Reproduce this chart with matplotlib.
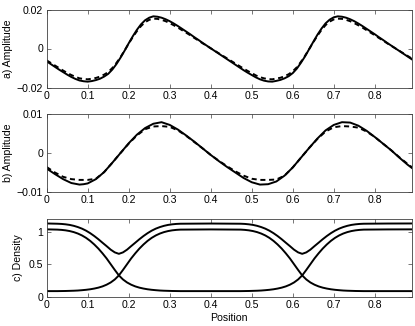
import matplotlib
matplotlib.use("Agg")
import matplotlib.pyplot as plt

plt.rcParams['font.family'] = ['Liberation Sans', 'DejaVu Sans']
plt.rcParams['axes.unicode_minus'] = True

# ---------------- data ----------------
x_a = [0.00, 0.01, 0.02, 0.03, 0.04, 0.05, 0.06, 0.07, 0.08, 0.09,
       0.10, 0.11, 0.12, 0.13, 0.14, 0.15, 0.16, 0.17, 0.18, 0.19,
       0.20, 0.21, 0.22, 0.23, 0.24, 0.25, 0.26, 0.27, 0.28, 0.29,
       0.30, 0.31, 0.32, 0.33, 0.34, 0.35, 0.36, 0.37, 0.38, 0.39,
       0.40, 0.41, 0.42, 0.43, 0.44, 0.45, 0.46, 0.47, 0.48, 0.49,
       0.50, 0.51, 0.52, 0.53, 0.54, 0.55, 0.56, 0.57, 0.58, 0.59,
       0.60, 0.61, 0.62, 0.63, 0.64, 0.65, 0.66, 0.67, 0.68, 0.69,
       0.70, 0.71, 0.72, 0.73, 0.74, 0.75, 0.76, 0.77, 0.78, 0.79,
       0.80, 0.81, 0.82, 0.83, 0.84, 0.85, 0.86, 0.87, 0.88, 0.89]

amp_a_solid = [-0.0066, -0.0080, -0.0094, -0.0108, -0.0121, -0.0134, -0.0146, -0.0156, -0.0164, -0.0168,
               -0.0170, -0.0167, -0.0162, -0.0155, -0.0144, -0.0130, -0.0108, -0.0080, -0.0047, -0.0011,
               0.0027, 0.0063, 0.0096, 0.0124, 0.0145, 0.0158, 0.0165, 0.0163, 0.0158, 0.0150,
               0.0140, 0.0128, 0.0115, 0.0101, 0.0087, 0.0073, 0.0058, 0.0044, 0.0029, 0.0015,
               0.0001, -0.0013, -0.0027, -0.0041, -0.0055, -0.0069, -0.0083, -0.0097, -0.0111, -0.0124,
               -0.0136, -0.0148, -0.0158, -0.0165, -0.0169, -0.0170, -0.0166, -0.0161, -0.0153, -0.0142,
               -0.0126, -0.0103, -0.0073, -0.0040, -0.0003, 0.0034, 0.0070, 0.0102, 0.0129, 0.0148,
               0.0160, 0.0165, 0.0163, 0.0158, 0.0150, 0.0140, 0.0128, 0.0115, 0.0101, 0.0087,
               0.0073, 0.0058, 0.0044, 0.0029, 0.0015, 0.0001, -0.0013, -0.0027, -0.0041, -0.0055]

amp_a_dashed = [-0.0061, -0.0074, -0.0087, -0.0100, -0.0113, -0.0125, -0.0136, -0.0145, -0.0153, -0.0156,
                -0.0158, -0.0155, -0.0151, -0.0144, -0.0134, -0.0121, -0.0100, -0.0074, -0.0044, -0.0010,
                0.0025, 0.0059, 0.0089, 0.0115, 0.0135, 0.0147, 0.0153, 0.0152, 0.0147, 0.0140,
                0.0130, 0.0119, 0.0107, 0.0094, 0.0081, 0.0068, 0.0054, 0.0041, 0.0027, 0.0014,
                0.0001, -0.0012, -0.0025, -0.0038, -0.0051, -0.0064, -0.0077, -0.0090, -0.0103, -0.0115,
                -0.0126, -0.0138, -0.0147, -0.0153, -0.0157, -0.0158, -0.0154, -0.0150, -0.0142, -0.0132,
                -0.0117, -0.0096, -0.0068, -0.0037, -0.0003, 0.0032, 0.0065, 0.0095, 0.0120, 0.0138,
                0.0149, 0.0153, 0.0152, 0.0147, 0.0140, 0.0130, 0.0119, 0.0107, 0.0094, 0.0081,
                0.0068, 0.0054, 0.0041, 0.0027, 0.0014, 0.0001, -0.0012, -0.0025, -0.0038, -0.0051]

x_b = [0.00, 0.02, 0.04, 0.06, 0.08, 0.09, 0.10, 0.12, 0.14, 0.16, 0.18, 0.20,
       0.22, 0.24, 0.26, 0.28, 0.30, 0.32, 0.34, 0.36, 0.38, 0.40, 0.42, 0.44,
       0.46, 0.48, 0.50, 0.52, 0.54, 0.56, 0.58, 0.60, 0.62, 0.64, 0.66, 0.68,
       0.70, 0.72, 0.74, 0.76, 0.78, 0.80, 0.82, 0.84, 0.86, 0.88, 0.89]

amp_b_solid = [-0.0040, -0.0054, -0.0067, -0.0077, -0.0081, -0.0080, -0.0078,
               -0.0067, -0.0049, -0.0025, 0.0000, 0.0025, 0.0047, 0.0064,
               0.0075, 0.0079, 0.0072, 0.0060, 0.0045, 0.0029, 0.0012, -0.0005,
               -0.0021, -0.0036, -0.0050, -0.0064, -0.0075, -0.0081, -0.0080,
               -0.0073, -0.0058, -0.0037, -0.0012, 0.0013, 0.0037, 0.0058,
               0.0072, 0.0079, 0.0078, 0.0070, 0.0057, 0.0041, 0.0024, 0.0007,
               -0.0012, -0.0030, -0.0038]

amp_b_dashed = [-0.0036, -0.0050, -0.0061, -0.0067, -0.0069, -0.0069, -0.0069,
                -0.0066, -0.0049, -0.0025, 0.0000, 0.0024, 0.0045, 0.0061,
                0.0068, 0.0069, 0.0067, 0.0058, 0.0044, 0.0028, 0.0012, -0.0005,
                -0.0020, -0.0034, -0.0047, -0.0058, -0.0066, -0.0069, -0.0069,
                -0.0068, -0.0058, -0.0037, -0.0012, 0.0013, 0.0036, 0.0055,
                0.0066, 0.0069, 0.0068, 0.0065, 0.0055, 0.0041, 0.0024, 0.0007,
                -0.0011, -0.0028, -0.0036]

x_c = [0.000,
       0.026, 0.036, 0.046, 0.056, 0.066, 0.076, 0.086, 0.096, 0.106, 0.116,
       0.126, 0.136, 0.146, 0.156, 0.166, 0.176, 0.186, 0.196, 0.206, 0.216,
       0.226, 0.236, 0.246, 0.256, 0.266, 0.276, 0.286, 0.296, 0.306, 0.316,
       0.326,
       0.400,
       0.473, 0.483, 0.493, 0.503, 0.513, 0.523, 0.533, 0.543, 0.553, 0.563,
       0.573, 0.583, 0.593, 0.603, 0.613, 0.623, 0.633, 0.643, 0.653, 0.663,
       0.673, 0.683, 0.693, 0.703, 0.713, 0.723, 0.733, 0.743, 0.753, 0.763,
       0.773,
       0.830, 0.890]

dens_1 = [1.034,
          1.030, 1.026, 1.019, 1.008, 0.992, 0.970, 0.941, 0.904, 0.858, 0.803,
          0.740, 0.668, 0.590, 0.502, 0.414, 0.330, 0.268, 0.222, 0.188, 0.162,
          0.143, 0.129, 0.118, 0.110, 0.104, 0.099, 0.096, 0.094, 0.092, 0.091,
          0.090,
          0.090,
          0.090, 0.091, 0.092, 0.094, 0.096, 0.099, 0.104, 0.110, 0.118, 0.129,
          0.143, 0.162, 0.188, 0.222, 0.268, 0.330, 0.414, 0.502, 0.590, 0.668,
          0.740, 0.803, 0.858, 0.904, 0.941, 0.970, 0.992, 1.008, 1.019, 1.026,
          1.030,
          1.033, 1.034]

dens_2 = [0.090,
          0.090, 0.091, 0.092, 0.094, 0.096, 0.099, 0.104, 0.110, 0.118, 0.129,
          0.143, 0.162, 0.188, 0.222, 0.268, 0.330, 0.414, 0.502, 0.590, 0.668,
          0.740, 0.803, 0.858, 0.904, 0.941, 0.970, 0.992, 1.008, 1.019, 1.026,
          1.030,
          1.033,
          1.030, 1.026, 1.019, 1.008, 0.992, 0.970, 0.941, 0.904, 0.858, 0.803,
          0.740, 0.668, 0.590, 0.502, 0.414, 0.330, 0.268, 0.222, 0.188, 0.162,
          0.143, 0.129, 0.118, 0.110, 0.104, 0.099, 0.096, 0.094, 0.092, 0.091,
          0.090,
          0.090, 0.090]

dens_total = [1.124,
              1.120, 1.117, 1.111, 1.102, 1.088, 1.069, 1.045, 1.014, 0.976, 0.932,
              0.883, 0.830, 0.778, 0.724, 0.682, 0.660, 0.682, 0.724, 0.778, 0.830,
              0.883, 0.932, 0.976, 1.014, 1.045, 1.069, 1.088, 1.102, 1.111, 1.117,
              1.120,
              1.123,
              1.120, 1.117, 1.111, 1.102, 1.088, 1.069, 1.045, 1.014, 0.976, 0.932,
              0.883, 0.830, 0.778, 0.724, 0.682, 0.660, 0.682, 0.724, 0.778, 0.830,
              0.883, 0.932, 0.976, 1.014, 1.045, 1.069, 1.088, 1.102, 1.111, 1.117,
              1.120,
              1.123, 1.124]

x_ticks = [0, 0.1, 0.2, 0.3, 0.4, 0.5, 0.6, 0.7, 0.8]
x_ticklabels = ['0', '0.1', '0.2', '0.3', '0.4', '0.5', '0.6', '0.7', '0.8']
a_ticks = [-0.02, 0, 0.02]
a_ticklabels = ['\u22120.02', '0', '0.02']
b_ticks = [-0.01, 0, 0.01]
b_ticklabels = ['\u22120.01', '0', '0.01']
c_ticks = [0, 0.5, 1]
c_ticklabels = ['0', '0.5', '1']

# ---------------- figure ----------------
W, H = 415, 326
fig = plt.figure(figsize=(W / 100, H / 100), dpi=100)

def px_axes(left, top, right, bottom):
    return fig.add_axes([left / W, 1 - bottom / H, (right - left) / W, (bottom - top) / H])

ax_a = px_axes(46.7, 9.5, 411.7, 87.5)
ax_b = px_axes(46.7, 114, 411.7, 192)
ax_c = px_axes(46.7, 218.5, 411.7, 297)

fs = 7.6
lw = 1.4
dash = (0, (2.6, 1.9))

ax_a.plot(x_a, amp_a_dashed, color='black', lw=lw, linestyle=dash)
ax_a.plot(x_a, amp_a_solid, color='black', lw=lw)
ax_b.plot(x_b, amp_b_dashed, color='black', lw=lw, linestyle=dash)
ax_b.plot(x_b, amp_b_solid, color='black', lw=lw)
ax_c.plot(x_c, dens_total, color='black', lw=lw)
ax_c.plot(x_c, dens_1, color='black', lw=lw)
ax_c.plot(x_c, dens_2, color='black', lw=lw)

ax_a.set_ylim(-0.02, 0.02)
ax_b.set_ylim(-0.01, 0.01)
ax_c.set_ylim(0, 1.2)

for ax, yt, ytl in [(ax_a, a_ticks, a_ticklabels), (ax_b, b_ticks, b_ticklabels),
                    (ax_c, c_ticks, c_ticklabels)]:
    ax.set_xlim(0, 0.89)
    ax.set_xticks(x_ticks)
    ax.set_xticklabels(x_ticklabels)
    ax.set_yticks(yt)
    ax.set_yticklabels(ytl)
    ax.tick_params(direction='in', top=True, right=True, length=3, width=0.5,
                   labelsize=fs, pad=2.5, color='#404040')
    for s in ax.spines.values():
        s.set_linewidth(0.6)
        s.set_color('#404040')

ax_a.set_ylabel('a) Amplitude', fontsize=fs)
ax_b.set_ylabel('b) Amplitude', fontsize=fs)
ax_c.set_ylabel('c) Density', fontsize=fs)
ax_a.yaxis.set_label_coords(-0.093, 0.5)
ax_b.yaxis.set_label_coords(-0.093, 0.5)
ax_c.yaxis.set_label_coords(-0.065, 0.5)
ax_c.set_xlabel('Position', fontsize=fs, labelpad=1.5)

fig.savefig('out.png', dpi=100)
